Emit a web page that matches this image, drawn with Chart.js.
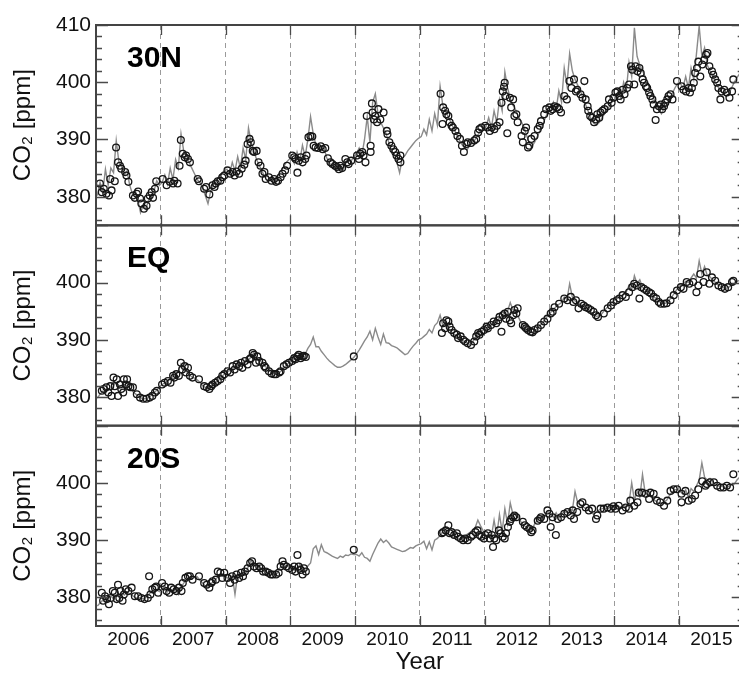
<!DOCTYPE html>
<html>
<head>
<meta charset="utf-8">
<script src="https://cdn.jsdelivr.net/npm/chart.js@4.4.1/dist/chart.umd.min.js"></script>
<style>
  html, body { margin: 0; padding: 0; background: #fff; overflow: hidden; }
  #wrap { width: 739px; height: 673px; overflow: hidden; position: relative; }
  canvas { display: block; }
</style>
</head>
<body>
<div id="wrap"><canvas id="co2" width="749" height="680"></canvas></div>
<script>
// ---- axis labels and ticks ----
const yearLabels = ['2006', '2007', '2008', '2009', '2010', '2011', '2012', '2013', '2014', '2015'];
const yearBounds = [2007, 2008, 2009, 2010, 2011, 2012, 2013, 2014, 2015];
const yTickLabels = [380, 390, 400, 410];
const yMinorTicks = [376, 378, 380, 382, 384, 386, 388, 390, 392, 394, 396, 398, 400, 402, 404, 406, 408, 410];

// ---- model CO2 (ppm), 24 samples per year from 2006.0 ----
const modelStart = 2006;
const modelPerYear = 24;

const model30N = [
  380.2, 382.5, 380.8, 384.8, 382.0, 385.0, 384.2, 389.8, 386.0, 385.2, 383.8, 384.5, 382.0, 380.5, 381.2, 379.5, 377.2, 378.5, 377.8, 379.5, 380.2, 381.0, 382.8, 382.0,
  382.5, 383.8, 382.2, 385.0, 383.0, 386.5, 385.0, 391.0, 388.0, 387.2, 386.0, 385.0, 384.0, 383.0, 382.5, 381.5, 380.2, 378.8, 381.0, 382.0, 382.8, 383.5, 384.0, 384.5,
  384.8, 384.0, 386.0, 384.5, 387.0, 385.0, 388.5, 386.5, 392.0, 389.5, 388.0, 386.5, 385.5, 384.5, 383.5, 383.8, 382.8, 383.2, 382.5, 383.8, 384.5, 385.2, 386.0, 386.5,
  386.8, 385.8, 387.8, 386.2, 389.0, 387.0, 390.0, 394.0, 391.0, 389.0, 388.8, 388.2, 388.5, 386.8, 385.8, 385.5, 385.0, 384.8, 385.2, 384.6, 385.8, 386.5, 386.2, 387.0,
  387.5, 388.5, 387.2, 390.0, 394.0, 389.5, 396.5, 398.0, 394.5, 393.0, 392.0, 391.0, 389.5, 388.0, 387.5, 386.0, 384.2, 386.8, 387.2, 388.0, 388.6, 389.2, 389.8, 390.2,
  390.5, 391.8, 390.8, 393.5, 391.5, 394.5, 392.5, 399.3, 396.0, 395.0, 394.0, 393.0, 392.0, 391.0, 390.0, 389.2, 388.5, 388.2, 389.0, 389.5, 390.0, 390.8, 391.5, 392.0,
  392.2, 393.8, 392.0, 395.0, 393.0, 397.0, 395.0, 401.8, 399.0, 397.2, 396.0, 395.2, 394.0, 393.2, 392.2, 390.8, 389.5, 388.8, 389.5, 390.5, 391.5, 392.5, 393.8, 394.8,
  395.0, 396.5, 395.2, 398.5, 396.5, 402.5, 399.5, 405.0, 402.0, 400.5, 399.5, 398.5, 397.2, 396.0, 394.8, 393.5, 392.8, 392.5, 393.0, 393.8, 394.5, 395.2, 396.0, 396.8,
  397.0, 398.5, 397.2, 400.0, 398.5, 403.5, 401.0, 409.5, 404.5, 403.0, 402.0, 401.0, 400.0, 398.5, 397.5, 396.0, 395.2, 394.5, 395.5, 396.2, 397.0, 398.0, 399.0, 399.8,
  399.8, 399.0, 401.0, 399.0, 402.5, 400.5, 405.0, 409.8, 404.5, 406.0, 403.0, 402.0, 401.2, 400.0, 399.2, 398.5, 398.0, 397.5, 398.0, 399.0, 400.0, 400.8, 401.5, 402.0
];

const modelEQ = [
  379.8, 380.5, 381.0, 380.6, 381.5, 381.2, 382.0, 382.5, 381.5, 382.0, 382.2, 381.8, 381.5, 381.0, 380.6, 380.2, 379.9, 379.7, 379.7, 379.9, 380.3, 380.8, 381.2, 381.8,
  382.2, 382.5, 382.8, 383.2, 383.6, 384.0, 384.5, 385.8, 385.0, 384.5, 384.0, 383.5, 383.3, 383.0, 382.6, 382.0, 381.7, 381.4, 381.7, 382.2, 382.6, 383.0, 383.5, 384.0,
  384.4, 384.6, 385.0, 385.2, 385.5, 385.7, 386.0, 386.3, 386.5, 387.0, 387.8, 386.8, 386.5, 386.0, 385.5, 385.0, 384.6, 384.2, 384.0, 384.1, 384.5, 385.0, 385.5, 386.0,
  386.3, 386.6, 386.9, 387.1, 387.2, 387.5, 388.5, 389.2, 390.5, 388.8, 388.8, 388.0, 387.4, 386.8, 386.3, 385.9, 385.5, 385.2, 385.2, 385.4, 385.7, 386.1, 386.5, 386.9,
  387.5, 388.2, 389.0, 389.8, 390.5, 391.5, 390.0, 392.0, 390.5, 389.2, 391.0, 389.5, 389.4, 389.0, 388.8, 388.6, 388.2, 387.8, 387.4, 387.6, 388.3, 388.9, 389.4, 390.0,
  390.2, 390.6, 391.0, 391.8, 391.2, 392.5, 393.0, 394.3, 392.5, 393.0, 392.0, 391.5, 391.0, 390.8, 390.4, 390.0, 389.7, 389.4, 389.2, 389.6, 390.4, 391.0, 391.3, 391.7,
  392.0, 392.3, 392.6, 393.0, 393.3, 393.8, 394.2, 394.8, 395.0, 396.5, 395.2, 395.3, 394.0, 393.0, 392.4, 391.9, 391.5, 391.3, 391.5, 392.0, 392.5, 393.0, 393.6, 394.3,
  394.8, 395.3, 395.8, 396.2, 396.5, 397.5, 397.0, 399.8, 397.5, 396.8, 396.5, 396.2, 395.8, 395.5, 395.2, 394.8, 394.4, 394.1, 394.2, 394.6, 395.2, 395.7, 396.2, 396.7,
  397.0, 397.3, 397.6, 398.0, 398.4, 399.5, 398.8, 401.2, 399.8, 400.5, 399.2, 398.8, 398.4, 398.0, 397.6, 397.2, 396.8, 396.4, 396.3, 396.5, 397.0, 397.6, 398.3, 399.0,
  399.5, 399.8, 400.2, 400.0, 400.8, 401.5, 400.8, 403.8, 401.5, 402.8, 401.2, 401.0, 400.5, 400.0, 399.6, 399.3, 399.1, 399.0, 399.2, 399.5, 399.8, 400.2, 400.4, 400.6
];

const model20S = [
  378.5, 379.0, 379.5, 379.2, 379.8, 380.2, 379.8, 380.5, 380.0, 380.8, 380.4, 381.0, 380.6, 380.3, 380.0, 379.8, 380.0, 379.7, 380.0, 380.5, 381.0, 380.6, 381.3, 381.0,
  381.5, 382.0, 381.0, 381.5, 380.8, 381.5, 380.5, 381.8, 382.5, 383.0, 383.5, 383.2, 383.5, 383.6, 383.0, 382.5, 382.0, 381.8, 382.3, 382.8, 383.2, 383.8, 384.2, 383.8,
  383.5, 383.0, 383.8, 380.5, 384.0, 383.5, 384.5, 384.2, 385.5, 386.5, 385.5, 385.8, 385.2, 385.0, 384.6, 384.3, 384.0, 384.2, 383.8, 384.5, 385.5, 385.2, 385.6, 385.3,
  384.8, 385.4, 384.6, 385.8, 385.2, 384.5, 385.5, 386.0, 388.5, 389.0, 387.5, 389.2, 388.0, 387.8, 387.5, 387.2, 387.0, 386.8, 387.2, 387.0, 387.4, 387.3, 387.6, 387.5,
  387.5, 387.2, 387.8, 387.0, 386.8, 386.3, 387.5, 388.5, 389.5, 390.2, 389.6, 390.0, 389.5, 388.8, 388.6, 388.4, 388.2, 388.0, 388.1, 388.4, 388.7, 388.6, 389.0, 389.2,
  389.4, 389.8, 388.5, 389.7, 388.3, 390.0, 390.3, 390.8, 391.5, 391.2, 391.0, 390.8, 390.5, 390.5, 390.3, 390.2, 390.6, 391.0, 391.3, 391.8, 392.2, 393.5, 392.5, 391.6,
  390.8, 391.0, 390.6, 393.5, 390.8, 394.5, 391.5, 395.5, 392.8, 396.5, 394.5, 394.8, 394.0, 393.2, 392.6, 392.2, 391.6, 391.8, 392.8, 393.5, 394.0, 393.8, 394.5, 395.0,
  394.5, 394.0, 394.8, 393.8, 394.5, 395.0, 394.8, 395.5, 395.2, 398.5, 396.5, 396.2, 395.8, 395.5, 395.3, 394.8, 394.5, 395.0, 395.3, 395.5, 395.6, 395.5, 395.7, 395.8,
  395.8, 396.0, 395.6, 396.2, 395.8, 396.5, 400.0, 397.0, 398.5, 397.5, 401.5, 398.2, 398.0, 397.6, 397.2, 396.8, 396.5, 396.4, 396.6, 397.0, 397.8, 398.4, 398.8, 398.9,
  398.5, 398.0, 398.8, 397.5, 399.0, 398.5, 399.5, 400.5, 403.5, 401.0, 400.5, 400.8, 400.2, 399.8, 399.5, 399.4, 399.3, 399.2, 399.4, 399.6, 399.8, 400.5, 401.0, 401.5
];

// ---- observed CO2: [decimal year, ppm] ----
const obs30N = [
  [2006.06,382.3],[2006.09,380.8],[2006.12,381.4],[2006.16,380.5],[2006.2,380.2],[2006.22,383.1],[2006.24,381.1],[2006.29,382.7],[2006.31,388.6],[2006.34,386.0],[2006.37,385.4],[2006.39,384.9],[2006.45,384.3],[2006.47,383.7],[2006.5,382.6],[2006.57,380.2],[2006.6,379.8],[2006.63,380.5],[2006.65,380.9],[2006.68,379.7],[2006.7,378.8],[2006.74,377.9],[2006.78,378.4],[2006.8,379.7],[2006.83,380.2],[2006.86,380.8],[2006.88,379.8],[2006.91,381.4],[2006.93,382.7],
  [2007.03,383.1],[2007.09,382.0],[2007.14,382.6],[2007.19,382.3],[2007.21,382.8],[2007.26,382.3],[2007.29,385.4],[2007.31,389.9],[2007.34,387.5],[2007.37,386.9],[2007.39,387.2],[2007.42,386.6],[2007.45,386.0],[2007.57,383.1],[2007.59,382.7],[2007.67,381.4],[2007.7,381.7],[2007.75,380.4],[2007.8,382.0],[2007.83,381.7],[2007.85,382.3],[2007.88,382.7],[2007.92,382.8],[2007.95,383.4],[2007.98,383.7],
  [2008.03,384.6],[2008.07,384.0],[2008.11,384.3],[2008.14,383.7],[2008.17,384.4],[2008.21,384.0],[2008.25,384.9],[2008.29,385.6],[2008.31,386.3],[2008.34,389.2],[2008.37,390.1],[2008.39,389.5],[2008.42,388.0],[2008.44,387.8],[2008.48,388.0],[2008.51,386.0],[2008.54,385.4],[2008.57,384.0],[2008.6,384.3],[2008.62,383.1],[2008.67,383.4],[2008.71,382.8],[2008.75,383.1],[2008.78,382.6],[2008.81,382.8],[2008.85,383.4],[2008.88,384.0],[2008.92,384.6],[2008.95,385.4],
  [2009.03,387.2],[2009.06,386.9],[2009.08,386.6],[2009.11,384.2],[2009.13,386.3],[2009.16,386.9],[2009.19,386.0],[2009.23,386.6],[2009.25,387.2],[2009.28,390.4],[2009.31,390.6],[2009.34,390.5],[2009.36,388.9],[2009.39,388.6],[2009.43,388.5],[2009.47,388.8],[2009.5,388.3],[2009.54,388.5],[2009.58,386.7],[2009.62,386.0],[2009.65,385.7],[2009.69,385.4],[2009.72,385.2],[2009.75,384.8],[2009.77,385.4],[2009.8,385.0],[2009.85,386.6],[2009.88,386.0],[2009.9,385.7],[2009.94,386.3],
  [2010.03,387.2],[2010.06,386.6],[2010.08,387.5],[2010.11,387.8],[2010.13,387.2],[2010.16,386.0],[2010.18,394.1],[2010.24,388.9],[2010.24,387.8],[2010.26,396.3],[2010.27,394.7],[2010.29,393.5],[2010.31,394.1],[2010.34,393.0],[2010.36,395.3],[2010.39,393.5],[2010.44,394.7],[2010.49,391.5],[2010.5,390.9],[2010.53,389.5],[2010.56,388.9],[2010.59,388.3],[2010.62,387.8],[2010.64,387.2],[2010.67,386.6],[2010.7,386.0],[2010.7,387.2],
  [2011.32,398.0],[2011.35,392.7],[2011.36,395.6],[2011.39,395.0],[2011.41,394.4],[2011.44,394.1],[2011.46,393.0],[2011.49,392.4],[2011.51,392.1],[2011.55,391.5],[2011.58,390.6],[2011.62,390.1],[2011.65,388.9],[2011.68,387.8],[2011.72,389.2],[2011.74,389.5],[2011.79,389.4],[2011.84,389.8],[2011.87,390.1],[2011.9,391.2],[2011.92,391.8],[2011.95,392.1],
  [2012.01,392.4],[2012.04,392.1],[2012.08,391.5],[2012.11,392.1],[2012.15,391.8],[2012.19,392.4],[2012.23,393.0],[2012.26,396.4],[2012.28,398.4],[2012.3,399.2],[2012.31,399.9],[2012.32,397.6],[2012.35,391.1],[2012.39,397.3],[2012.41,395.6],[2012.44,397.0],[2012.46,394.1],[2012.49,394.4],[2012.51,393.0],[2012.57,390.6],[2012.59,389.5],[2012.62,391.5],[2012.64,392.1],[2012.67,388.6],[2012.69,388.9],[2012.72,390.1],[2012.77,390.6],[2012.82,391.8],[2012.85,392.4],[2012.87,393.2],[2012.92,394.4],[2012.95,395.3],
  [2013.0,395.6],[2013.02,395.0],[2013.05,395.3],[2013.08,395.8],[2013.12,395.6],[2013.15,395.3],[2013.18,394.7],[2013.23,397.6],[2013.27,397.0],[2013.31,400.2],[2013.34,399.0],[2013.38,400.5],[2013.41,398.4],[2013.43,398.7],[2013.48,397.9],[2013.51,397.3],[2013.54,400.2],[2013.56,397.0],[2013.59,395.8],[2013.6,395.0],[2013.63,394.1],[2013.66,393.8],[2013.69,393.0],[2013.72,393.5],[2013.74,394.4],[2013.77,393.8],[2013.79,394.7],[2013.82,395.0],[2013.85,395.3],[2013.9,395.8],[2013.92,397.0],[2013.96,396.4],[2013.99,397.3],
  [2014.02,398.2],[2014.05,398.4],[2014.08,397.6],[2014.1,397.0],[2014.13,398.7],[2014.16,397.9],[2014.2,399.0],[2014.23,399.6],[2014.26,402.8],[2014.28,402.2],[2014.31,399.6],[2014.33,402.8],[2014.36,401.9],[2014.39,402.5],[2014.41,401.6],[2014.44,400.5],[2014.46,399.9],[2014.49,399.3],[2014.51,399.0],[2014.54,398.2],[2014.56,397.6],[2014.59,397.0],[2014.61,396.1],[2014.64,393.4],[2014.66,395.3],[2014.69,395.8],[2014.72,396.1],[2014.74,395.3],[2014.77,395.8],[2014.79,396.4],[2014.82,397.0],[2014.84,397.6],[2014.87,397.9],[2014.9,397.0],[2014.97,400.2],
  [2015.04,399.3],[2015.07,398.7],[2015.11,398.4],[2015.15,399.0],[2015.17,398.2],[2015.2,399.0],[2015.23,399.9],[2015.25,401.6],[2015.28,402.5],[2015.3,403.6],[2015.33,401.0],[2015.36,403.1],[2015.39,403.9],[2015.42,404.8],[2015.44,405.1],[2015.47,402.8],[2015.51,401.9],[2015.53,401.3],[2015.56,400.5],[2015.59,399.9],[2015.61,399.0],[2015.64,397.0],[2015.66,398.4],[2015.7,398.7],[2015.74,398.2],[2015.78,397.3],[2015.82,398.4],[2015.84,400.5]
];

const obsEQ = [
  [2006.09,381.1],[2006.12,381.4],[2006.16,381.7],[2006.19,380.8],[2006.22,381.9],[2006.24,380.2],[2006.27,383.4],[2006.29,381.9],[2006.32,383.1],[2006.34,380.2],[2006.37,382.2],[2006.39,381.4],[2006.42,380.8],[2006.43,383.1],[2006.46,382.2],[2006.48,383.1],[2006.5,381.9],[2006.53,381.7],[2006.57,381.7],[2006.63,380.5],[2006.68,379.9],[2006.73,379.7],[2006.78,379.7],[2006.83,379.9],[2006.87,380.2],[2006.91,380.8],[2006.94,381.1],
  [2007.02,382.2],[2007.06,382.5],[2007.11,382.8],[2007.15,382.5],[2007.19,383.7],[2007.21,383.4],[2007.24,384.0],[2007.28,383.7],[2007.31,386.0],[2007.33,384.8],[2007.37,385.4],[2007.39,384.3],[2007.42,385.1],[2007.45,383.7],[2007.49,383.4],[2007.59,383.1],[2007.67,381.9],[2007.71,381.7],[2007.75,381.4],[2007.78,381.9],[2007.8,382.2],[2007.84,382.5],[2007.88,382.8],[2007.92,383.1],[2007.95,383.7],[2007.98,384.0],
  [2008.03,384.5],[2008.07,384.3],[2008.11,385.4],[2008.14,384.8],[2008.17,385.7],[2008.21,385.4],[2008.24,386.0],[2008.26,385.1],[2008.3,386.3],[2008.34,385.7],[2008.37,386.6],[2008.39,386.8],[2008.42,387.7],[2008.44,387.4],[2008.47,386.0],[2008.49,387.1],[2008.52,386.3],[2008.57,386.0],[2008.6,385.4],[2008.62,385.1],[2008.67,384.5],[2008.71,384.1],[2008.75,384.0],[2008.78,384.0],[2008.83,384.3],[2008.85,384.5],[2008.9,385.4],[2008.94,385.7],[2008.98,386.0],
  [2009.03,386.3],[2009.06,386.8],[2009.08,386.6],[2009.11,387.1],[2009.13,387.4],[2009.16,386.8],[2009.19,387.1],[2009.21,387.2],[2009.24,387.0],[2009.98,387.1],
  [2011.34,391.2],[2011.36,392.9],[2011.39,392.0],[2011.41,393.4],[2011.44,393.2],[2011.46,392.3],[2011.49,391.7],[2011.53,391.2],[2011.57,390.9],[2011.59,390.3],[2011.63,390.6],[2011.67,390.0],[2011.7,389.7],[2011.74,389.4],[2011.79,389.1],[2011.84,389.7],[2011.87,390.6],[2011.9,391.2],[2011.92,390.9],[2011.95,391.4],[2011.99,391.7],
  [2012.03,392.3],[2012.05,392.0],[2012.1,392.6],[2012.14,393.2],[2012.18,392.9],[2012.21,393.4],[2012.23,394.0],[2012.26,391.4],[2012.28,394.3],[2012.31,394.6],[2012.33,393.7],[2012.36,394.9],[2012.39,393.4],[2012.41,392.9],[2012.44,394.3],[2012.46,395.2],[2012.49,394.6],[2012.51,395.5],[2012.59,392.6],[2012.62,392.3],[2012.64,392.0],[2012.67,391.7],[2012.71,391.4],[2012.74,391.3],[2012.77,391.7],[2012.82,392.0],[2012.87,392.6],[2012.92,393.2],[2012.97,393.7],
  [2013.02,394.6],[2013.05,394.9],[2013.08,395.7],[2013.15,396.3],[2013.23,397.2],[2013.28,396.9],[2013.33,397.5],[2013.37,396.6],[2013.41,396.9],[2013.45,395.5],[2013.49,396.3],[2013.53,396.0],[2013.56,395.7],[2013.6,395.5],[2013.64,395.2],[2013.68,394.9],[2013.72,394.3],[2013.75,394.0],[2013.84,394.6],[2013.9,395.5],[2013.95,396.0],[2013.99,396.6],
  [2014.04,396.9],[2014.08,397.2],[2014.13,397.8],[2014.18,397.5],[2014.23,398.3],[2014.28,399.2],[2014.31,399.8],[2014.35,399.5],[2014.39,397.2],[2014.42,399.2],[2014.46,398.9],[2014.5,398.6],[2014.54,398.3],[2014.57,398.1],[2014.61,397.5],[2014.65,397.2],[2014.69,396.6],[2014.72,396.3],[2014.77,396.3],[2014.81,396.4],[2014.87,396.9],[2014.92,397.8],[2014.97,398.6],
  [2015.03,399.2],[2015.07,398.9],[2015.12,400.1],[2015.16,399.8],[2015.22,400.1],[2015.27,398.3],[2015.3,399.5],[2015.33,401.5],[2015.38,400.1],[2015.43,401.8],[2015.47,399.8],[2015.51,400.9],[2015.56,400.3],[2015.61,399.5],[2015.66,399.2],[2015.71,398.9],[2015.76,399.2],[2015.82,400.1],[2015.84,400.3]
];

const obs20S = [
  [2006.09,380.8],[2006.11,379.4],[2006.14,380.2],[2006.17,379.7],[2006.2,378.8],[2006.23,379.9],[2006.26,381.1],[2006.29,380.8],[2006.32,379.7],[2006.34,382.2],[2006.36,379.9],[2006.38,381.1],[2006.41,379.4],[2006.43,380.5],[2006.46,381.4],[2006.5,381.1],[2006.55,381.7],[2006.6,380.2],[2006.65,380.2],[2006.7,379.9],[2006.75,379.7],[2006.8,379.9],[2006.82,383.7],[2006.84,380.5],[2006.87,381.4],[2006.91,381.7],[2006.93,381.9],[2006.96,380.8],
  [2007.02,382.5],[2007.06,381.9],[2007.09,381.1],[2007.13,380.8],[2007.16,381.7],[2007.2,381.4],[2007.24,381.1],[2007.28,381.7],[2007.32,381.1],[2007.34,382.5],[2007.38,383.4],[2007.42,383.7],[2007.45,383.7],[2007.49,383.1],[2007.59,383.7],[2007.67,382.5],[2007.71,382.2],[2007.75,381.7],[2007.78,382.5],[2007.8,382.8],[2007.85,383.1],[2007.88,384.5],[2007.92,384.3],[2007.95,383.4],[2007.98,384.3],
  [2008.03,383.4],[2008.07,382.5],[2008.1,383.7],[2008.14,383.1],[2008.17,384.0],[2008.21,383.4],[2008.24,384.3],[2008.27,383.7],[2008.3,384.5],[2008.34,385.1],[2008.38,386.0],[2008.41,386.3],[2008.44,385.4],[2008.48,385.1],[2008.52,385.4],[2008.55,385.1],[2008.58,384.5],[2008.62,384.5],[2008.66,384.3],[2008.7,384.0],[2008.73,384.0],[2008.78,384.0],[2008.82,384.3],[2008.85,385.4],[2008.88,386.3],[2008.9,385.7],[2008.94,385.4],[2008.98,385.1],
  [2009.03,384.8],[2009.06,385.4],[2009.08,384.5],[2009.11,387.4],[2009.13,385.4],[2009.16,384.8],[2009.19,384.0],[2009.21,385.1],[2009.24,384.5],[2009.98,388.3],
  [2011.34,391.2],[2011.36,391.4],[2011.4,391.7],[2011.44,392.6],[2011.46,391.2],[2011.49,391.4],[2011.53,390.9],[2011.57,391.2],[2011.59,390.6],[2011.63,390.3],[2011.67,390.0],[2011.7,390.3],[2011.74,390.0],[2011.79,390.6],[2011.82,390.9],[2011.86,391.4],[2011.89,391.7],[2011.92,390.9],[2011.95,390.6],[2011.99,390.3],
  [2012.01,390.9],[2012.05,391.2],[2012.08,390.3],[2012.11,390.9],[2012.13,388.8],[2012.15,390.3],[2012.18,390.0],[2012.22,391.7],[2012.25,391.2],[2012.28,390.6],[2012.31,390.3],[2012.33,391.2],[2012.36,392.3],[2012.39,393.2],[2012.41,393.7],[2012.44,394.0],[2012.46,394.3],[2012.49,394.0],[2012.59,393.2],[2012.62,392.6],[2012.65,392.3],[2012.69,392.0],[2012.72,391.4],[2012.74,391.7],[2012.82,393.4],[2012.85,393.7],[2012.87,394.0],[2012.92,393.7],[2012.97,395.2],
  [2013.0,394.6],[2013.02,392.3],[2013.05,394.0],[2013.1,390.9],[2013.13,393.7],[2013.18,394.0],[2013.23,394.6],[2013.28,394.9],[2013.33,394.3],[2013.36,395.2],[2013.38,393.7],[2013.43,394.9],[2013.48,396.3],[2013.51,396.6],[2013.56,395.7],[2013.61,395.2],[2013.66,395.5],[2013.72,393.7],[2013.74,394.3],[2013.79,395.5],[2013.84,395.5],[2013.9,395.7],[2013.95,395.5],[2013.99,395.9],
  [2014.02,395.5],[2014.07,396.0],[2014.13,395.2],[2014.18,395.7],[2014.23,395.5],[2014.25,396.9],[2014.31,396.0],[2014.36,396.6],[2014.38,398.3],[2014.43,398.3],[2014.49,398.1],[2014.54,397.2],[2014.56,398.3],[2014.61,398.1],[2014.66,396.9],[2014.71,396.6],[2014.77,396.0],[2014.82,396.9],[2014.87,398.6],[2014.92,398.9],[2014.97,398.9],
  [2015.04,398.1],[2015.04,396.6],[2015.1,398.6],[2015.15,396.9],[2015.2,397.2],[2015.25,397.8],[2015.3,398.9],[2015.36,400.3],[2015.41,399.5],[2015.43,399.8],[2015.48,400.1],[2015.54,400.1],[2015.59,399.5],[2015.64,399.2],[2015.69,399.2],[2015.74,399.5],[2015.79,399.2],[2015.84,401.5]
];

// ---- panels, top to bottom ----
const panels = [
  { name: '30N', axis: 'yN', model: model30N, obs: obs30N, labels: yTickLabels },
  { name: 'EQ',  axis: 'yE', model: modelEQ,  obs: obsEQ,  labels: yTickLabels.slice(0, 3) },
  { name: '20S', axis: 'yS', model: model20S, obs: obs20S, labels: yTickLabels.slice(0, 3) }
];

const FONT = '"Liberation Sans", Arial, Helvetica, sans-serif';
Chart.defaults.font.family = FONT;
Chart.defaults.color = '#111';

const toSeries = vals => vals.map((v, i) => ({ x: modelStart + (i + 0.5) / modelPerYear, y: v }));
const toPoints = pairs => pairs.map(([t, v]) => ({ x: t, y: v }));

const datasets = [];
panels.forEach(p => {
  datasets.push({
    type: 'scatter', label: p.name + ' obs', data: toPoints(p.obs),
    xAxisID: 'x', yAxisID: p.axis, order: 0,
    pointStyle: 'circle', pointRadius: 3.4, pointBorderWidth: 1.3,
    pointBorderColor: '#161616', pointBackgroundColor: 'rgba(0,0,0,0)',
    borderColor: '#161616', backgroundColor: 'rgba(0,0,0,0)', showLine: false
  });
  datasets.push({
    type: 'line', label: p.name + ' model', data: toSeries(p.model),
    xAxisID: 'x', yAxisID: p.axis, order: 1,
    borderColor: '#8a8a8a', borderWidth: 1.4, pointRadius: 0, tension: 0, fill: false
  });
});

function yAxis(labels) {
  return {
    type: 'linear', position: 'left', stack: 'panels', stackWeight: 1,
    min: 375, max: 410,
    afterBuildTicks: s => { s.ticks = labels.map(v => ({ value: v })); },
    afterFit: s => { s.width = 96; },
    ticks: { font: { size: 21 }, color: '#111', padding: 5 },
    grid: { display: false, drawTicks: false },
    border: { display: false },
    title: { display: true, text: 'CO₂ [ppm]', font: { size: 24 }, color: '#111', padding: { top: 9, bottom: 0 } }
  };
}

// frames, inward tick marks and panel names
const panelDecor = {
  id: 'panelDecor',
  afterDraw(chart) {
    const ctx = chart.ctx;
    const area = chart.chartArea;
    const xs = chart.scales.x;
    ctx.save();
    panels.forEach(p => {
      const ys = chart.scales[p.axis];
      const top = ys.top, bottom = ys.bottom;
      ctx.strokeStyle = '#4a4a4a';
      ctx.lineWidth = 1.3;
      ctx.setLineDash([]);
      ctx.beginPath();
      yMinorTicks.forEach(v => {
        const y = Math.round(ys.getPixelForValue(v)) + 0.5;
        const len = v % 10 === 0 ? 12 : 6;
        ctx.moveTo(area.left, y); ctx.lineTo(area.left + len, y);
        ctx.moveTo(area.right, y); ctx.lineTo(area.right - len, y);
      });
      yearBounds.forEach(yr => {
        const x = Math.round(xs.getPixelForValue(yr)) + 0.5;
        ctx.moveTo(x, top); ctx.lineTo(x, top + 10);
        ctx.moveTo(x, bottom); ctx.lineTo(x, bottom - 10);
      });
      ctx.stroke();
      ctx.lineWidth = 2;
      ctx.strokeStyle = '#444';
      ctx.strokeRect(area.left, top, area.right - area.left, bottom - top);
      ctx.fillStyle = '#000';
      ctx.font = 'bold 30px ' + FONT;
      ctx.textBaseline = 'alphabetic';
      ctx.textAlign = 'left';
      ctx.fillText(p.name, area.left + 31, top + 42);
    });
    ctx.restore();
  }
};

new Chart(document.getElementById('co2'), {
  type: 'scatter',
  data: { datasets },
  options: {
    responsive: false,
    animation: false,
    devicePixelRatio: 1,
    events: [],
    layout: { padding: { top: 25, right: 2, left: 0, bottom: 0 } },
    plugins: { legend: { display: false }, tooltip: { enabled: false } },
    scales: {
      yS: yAxis(panels[2].labels),
      yE: yAxis(panels[1].labels),
      yN: yAxis(panels[0].labels),
      x: {
        type: 'linear', position: 'bottom', min: 2006, max: 2016,
        afterBuildTicks: s => { s.ticks = yearBounds.map(v => ({ value: v })); },
        ticks: { display: false },
        grid: { display: true, drawTicks: false, color: '#9a9a9a', lineWidth: 1 },
        border: { display: false, dash: [5, 4] }
      },
      xLab: {
        type: 'linear', position: 'bottom', min: 2006, max: 2016,
        afterBuildTicks: s => { s.ticks = yearLabels.map(y => ({ value: Number(y) + 0.5 })); },
        afterFit: s => { s.height = 54; },
        ticks: {
          font: { size: 19 }, color: '#111', padding: 2,
          autoSkip: false, maxRotation: 0,
          callback: (v, i) => yearLabels[i]
        },
        grid: { display: false, drawTicks: false },
        border: { display: false },
        title: { display: true, text: 'Year', font: { size: 24 }, color: '#111', padding: { top: 0, bottom: 3 } }
      }
    }
  },
  plugins: [panelDecor]
});
</script>
</body>
</html>
